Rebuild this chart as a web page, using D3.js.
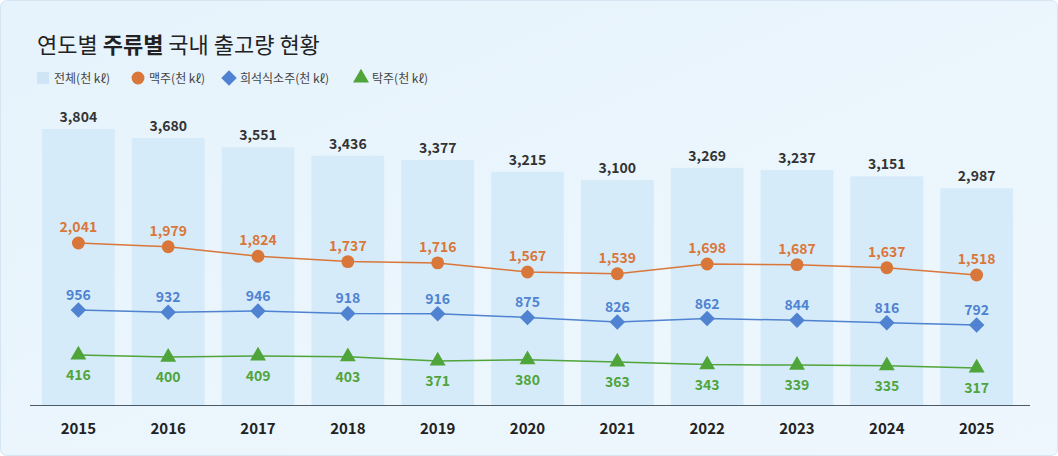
<!DOCTYPE html>
<html><head><meta charset="utf-8">
<script src="https://cdn.jsdelivr.net/npm/d3@7"></script>
<style>
body{margin:0;background:#fff;font-family:"Noto Sans CJK KR","Noto Sans",sans-serif;}
</style></head><body>
<svg id="c" width="1058" height="456"></svg>
<script>
var years = ['2015','2016','2017','2018','2019','2020','2021','2022','2023','2024','2025'];
var total = [3804,3680,3551,3436,3377,3215,3100,3269,3237,3151,2987];
var beer = [2041,1979,1824,1737,1716,1567,1539,1698,1687,1637,1518];
var soju = [956,932,946,918,916,875,826,862,844,816,792];
var makgeolli = [416,400,409,403,371,380,363,343,339,335,317];

var svg = d3.select('#c');
var defs = svg.append('defs');
var g0 = defs.append('linearGradient').attr('id','bg').attr('x1',0).attr('x2',1).attr('y1',0).attr('y2',1);
g0.append('stop').attr('offset',0).attr('stop-color','#e6f3fc');
g0.append('stop').attr('offset',1).attr('stop-color','#eef7fd');
svg.append('rect').attr('x',0.5).attr('y',0.5).attr('width',1057).attr('height',455)
  .attr('rx',6).attr('fill','url(#bg)').attr('stroke','#d5e6f2');

var title = svg.append('text').attr('x',37).attr('y',53).attr('font-size',22).attr('fill','#222');
title.append('tspan').text('연도별 ');
title.append('tspan').attr('font-weight','bold').text('주류별');
title.append('tspan').text(' 국내 출고량 현황');

var x = d3.scaleBand().domain(years).range([33,1022]).paddingInner(0.19).paddingOuter(0.1);
var yBar = d3.scaleLinear().domain([0,3804]).range([405,129]);
var yBeer = d3.scaleLinear().domain([1518,2041]).range([275,243]);
var ySoju = d3.scaleLinear().domain([792,956]).range([325,310]);
var yMak = d3.scaleLinear().domain([317,416]).range([368,355]);
var cx = function (d,i) { return x(years[i]) + x.bandwidth()/2; };

svg.append('g').selectAll('rect').data(total).enter().append('rect')
  .attr('x', function (d,i) { return x(years[i]); })
  .attr('width', x.bandwidth())
  .attr('y', function (d) { return yBar(d); })
  .attr('height', function (d) { return 405 - yBar(d); })
  .attr('fill','#d6ebf9');
svg.append('g').selectAll('text').data(total).enter().append('text')
  .attr('x', cx).attr('y', function (d) { return yBar(d) - 7; })
  .attr('text-anchor','middle').attr('font-size',14).attr('font-weight','bold').attr('fill','#333')
  .text(d3.format(','));

svg.append('line').attr('x1',30).attr('x2',1030).attr('y1',405.5).attr('y2',405.5).attr('stroke','#4a5a66');
svg.append('g').selectAll('text').data(years).enter().append('text')
  .attr('x', function (d) { return x(d) + x.bandwidth()/2; }).attr('y',434)
  .attr('text-anchor','middle').attr('font-size',15).attr('font-weight','bold').attr('fill','#222').text(function (d) { return d; });

function marker(shape) {
  if (shape === 'diamond') return { d: d3.symbol().type(d3.symbolSquare).size(120)(), rot: 45 };
  return { d: d3.symbol().type(shape).size(shape === d3.symbolCircle ? 130 : 110)(), rot: 0 };
}

function series(data, y, color, shape, labelDy) {
  var line = d3.line().x(cx).y(function (d) { return y(d); });
  svg.append('path').datum(data).attr('d', line).attr('fill','none').attr('stroke',color).attr('stroke-width',1.5);
  var m = marker(shape);
  svg.append('g').selectAll('path').data(data).enter().append('path')
    .attr('d', m.d).attr('fill', color)
    .attr('transform', function (d,i) { return 'translate(' + cx(d,i) + ',' + y(d) + ') rotate(' + m.rot + ')'; });
  svg.append('g').selectAll('text').data(data).enter().append('text')
    .attr('x', cx).attr('y', function (d) { return y(d) + labelDy; })
    .attr('text-anchor','middle').attr('font-size',14).attr('font-weight',600).attr('fill', color)
    .text(d3.format(','));
}
series(beer, yBeer, '#d9773a', d3.symbolCircle, -11);
series(soju, ySoju, '#4f82d1', 'diamond', -10);
series(makgeolli, yMak, '#4fa43a', d3.symbolTriangle, 25);

var legend = [
  {label:'전체(천 kℓ)', color:'#cfe4f4', shape:'rect'},
  {label:'맥주(천 kℓ)', color:'#d9773a', shape:d3.symbolCircle},
  {label:'희석식소주(천 kℓ)', color:'#4f82d1', shape:'diamond'},
  {label:'탁주(천 kℓ)', color:'#4fa43a', shape:d3.symbolTriangle}
];
var lx = [37, 132, 223, 355];
legend.forEach(function (l, i) {
  var gg = svg.append('g').attr('transform','translate(' + lx[i] + ',78)');
  if (l.shape === 'rect') {
    gg.append('rect').attr('x',0).attr('y',-6).attr('width',12).attr('height',12).attr('fill',l.color);
  } else {
    var m = marker(l.shape);
    gg.append('path').attr('d', m.d)
      .attr('transform','translate(6,0) rotate(' + m.rot + ')').attr('fill', l.color);
  }
  gg.append('text').attr('x',17).attr('y',4.5).attr('font-size',12).attr('fill','#444').text(l.label);
});
</script>
</body></html>
